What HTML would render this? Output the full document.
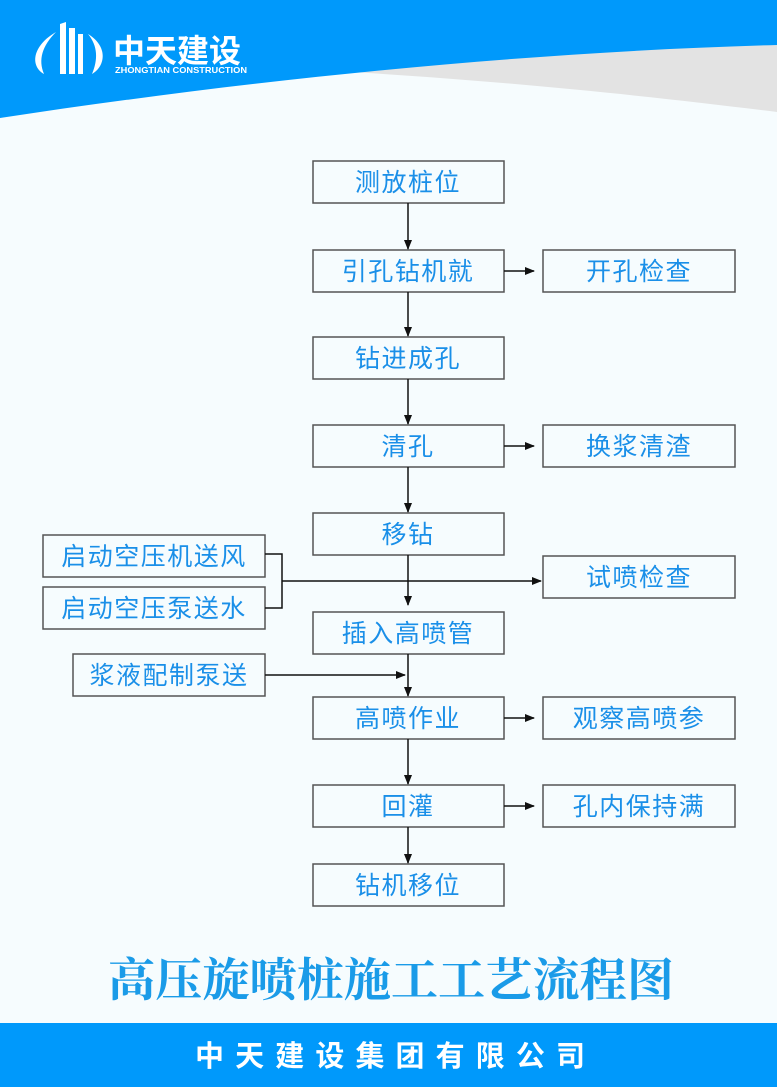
<!DOCTYPE html>
<html><head><meta charset="utf-8"><style>
html,body{margin:0;padding:0;width:777px;height:1087px;overflow:hidden;background:#f6fcfe}
svg{display:block}
.t{font-family:"Liberation Sans","Noto Sans CJK SC",sans-serif;font-size:25px;fill:#1a8fe8;text-anchor:middle;letter-spacing:1.5px}
.b{fill:#f6fcfe;stroke:#555;stroke-width:1.5}
.l{stroke:#111;stroke-width:1.5;fill:none}
</style></head><body>
<svg width="777" height="1087" viewBox="0 0 777 1087">
<defs><marker id="a" markerWidth="10" markerHeight="10" refX="9" refY="5" orient="auto" markerUnits="userSpaceOnUse"><path d="M0,1 L10,5 L0,9 z" fill="#111"/></marker></defs>
<rect width="777" height="1087" fill="#f6fcfe"/>
<!-- header -->
<path d="M0,0 H777 V112 C640,95 480,78 280,68 Z" fill="#e3e3e3"/>
<path d="M0,0 H777 V45 C520,52 250,80 0,118 Z" fill="#0099fb"/>
<!-- logo -->
<g fill="#fff">
<path d="M56,32 C32,46 30,66 44,74 C38,60 42,46 56,32Z"/>
<path d="M88,34 C108,46 106,66 92,74 C98,60 98,46 88,34Z"/>
<path d="M60,24 L66,22 L66,74 L60,74Z"/><rect x="69" y="28" width="6" height="46"/><rect x="78" y="34" width="5" height="40"/>
</g>
<text x="113" y="62" font-family="Liberation Sans,'Noto Sans CJK SC',sans-serif" font-weight="bold" font-size="32" fill="#fff">中天建设</text>
<text x="115" y="73" font-family="Liberation Sans,sans-serif" font-weight="bold" font-size="8.5" fill="#fff" textLength="132" lengthAdjust="spacingAndGlyphs">ZHONGTIAN CONSTRUCTION</text>
<!-- main boxes -->
<g>
<rect class="b" x="313" y="161" width="191" height="42"/><text class="t" x="408" y="191">测放桩位</text>
<rect class="b" x="313" y="250" width="191" height="42"/><text class="t" x="408" y="280">引孔钻机就</text>
<rect class="b" x="313" y="337" width="191" height="42"/><text class="t" x="408" y="367">钻进成孔</text>
<rect class="b" x="313" y="425" width="191" height="42"/><text class="t" x="408" y="455">清孔</text>
<rect class="b" x="313" y="513" width="191" height="42"/><text class="t" x="408" y="543">移钻</text>
<rect class="b" x="313" y="612" width="191" height="42"/><text class="t" x="408" y="642">插入高喷管</text>
<rect class="b" x="313" y="697" width="191" height="42"/><text class="t" x="408" y="727">高喷作业</text>
<rect class="b" x="313" y="785" width="191" height="42"/><text class="t" x="408" y="815">回灌</text>
<rect class="b" x="313" y="864" width="191" height="42"/><text class="t" x="408" y="894">钻机移位</text>
<rect class="b" x="543" y="250" width="192" height="42"/><text class="t" x="639" y="280">开孔检查</text>
<rect class="b" x="543" y="425" width="192" height="42"/><text class="t" x="639" y="455">换浆清渣</text>
<rect class="b" x="543" y="556" width="192" height="42"/><text class="t" x="639" y="586">试喷检查</text>
<rect class="b" x="543" y="697" width="192" height="42"/><text class="t" x="639" y="727">观察高喷参</text>
<rect class="b" x="543" y="785" width="192" height="42"/><text class="t" x="639" y="815">孔内保持满</text>
<rect class="b" x="43" y="535" width="222" height="42"/><text class="t" x="154" y="565">启动空压机送风</text>
<rect class="b" x="43" y="587" width="222" height="42"/><text class="t" x="154" y="617">启动空压泵送水</text>
<rect class="b" x="73" y="654" width="192" height="42"/><text class="t" x="169" y="684">浆液配制泵送</text>
</g>
<!-- connectors -->
<g class="l">
<line x1="408" y1="203" x2="408" y2="249" marker-end="url(#a)"/>
<line x1="408" y1="292" x2="408" y2="336" marker-end="url(#a)"/>
<line x1="408" y1="379" x2="408" y2="424" marker-end="url(#a)"/>
<line x1="408" y1="467" x2="408" y2="512" marker-end="url(#a)"/>
<line x1="408" y1="555" x2="408" y2="605" marker-end="url(#a)"/>
<line x1="408" y1="654" x2="408" y2="696" marker-end="url(#a)"/>
<line x1="408" y1="739" x2="408" y2="784" marker-end="url(#a)"/>
<line x1="408" y1="827" x2="408" y2="863" marker-end="url(#a)"/>
<line x1="504" y1="271" x2="534" y2="271" marker-end="url(#a)"/>
<line x1="504" y1="446" x2="534" y2="446" marker-end="url(#a)"/>
<line x1="504" y1="718" x2="534" y2="718" marker-end="url(#a)"/>
<line x1="504" y1="806" x2="534" y2="806" marker-end="url(#a)"/>
<polyline points="265,554 282,554 282,608 265,608"/>
<line x1="282" y1="581" x2="541" y2="581" marker-end="url(#a)"/>
<line x1="265" y1="675" x2="405" y2="675" marker-end="url(#a)"/>
</g>
<!-- title -->
<text x="391" y="996" text-anchor="middle" font-family="'Liberation Serif','Noto Serif CJK SC',serif" font-weight="bold" font-size="46" fill="#1a9be8" textLength="566" lengthAdjust="spacingAndGlyphs">高压旋喷桩施工工艺流程图</text>
<!-- footer -->
<rect x="0" y="1023" width="777" height="64" fill="#0099fb"/>
<text x="390" y="1066" text-anchor="middle" font-family="'Liberation Sans','Noto Sans CJK SC',sans-serif" font-weight="bold" font-size="29" fill="#fff" textLength="390" lengthAdjust="spacing">中天建设集团有限公司</text>
</svg>
</body></html>
